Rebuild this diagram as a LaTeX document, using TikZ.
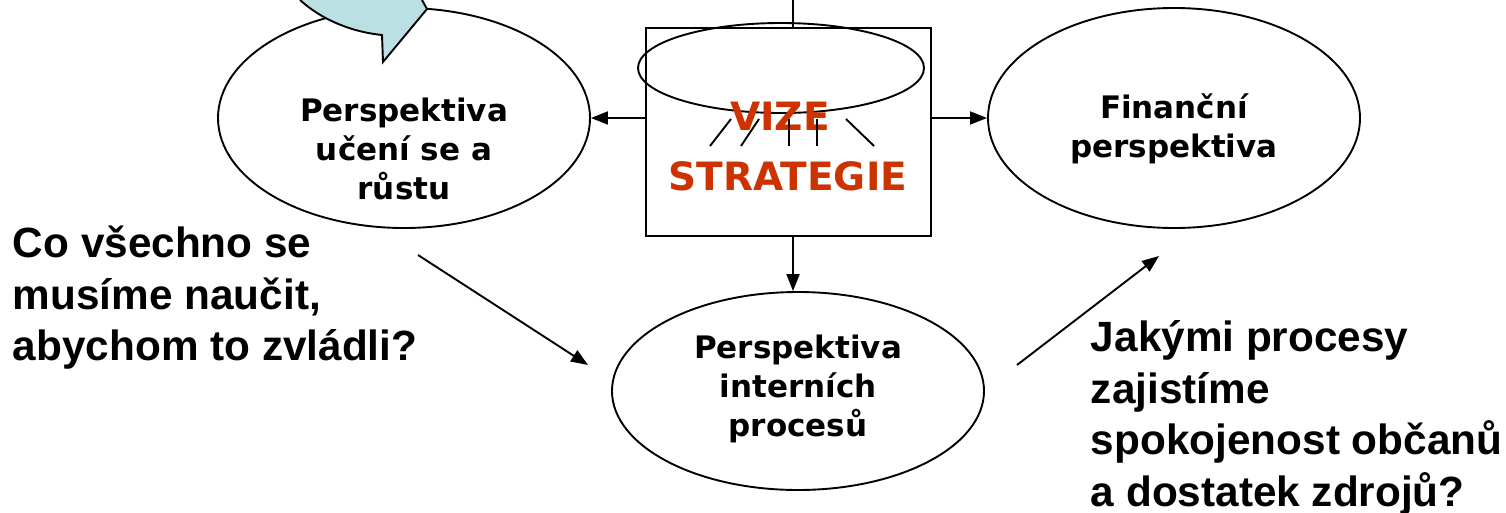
\documentclass[tikz,border=0pt]{standalone}
\usepackage{fontspec}
\setmainfont{Liberation Sans}
\newfontfamily\verd{DejaVu Sans}
\usetikzlibrary{shapes.geometric,positioning,arrows.meta}
\definecolor{vizered}{HTML}{CC3300}
\definecolor{callblue}{HTML}{BBE0E3}
\begin{document}
\begin{tikzpicture}[x=1pt,y=-1pt,line width=1.9pt,
  persp/.style={ellipse,draw,minimum width=372pt,minimum height=220pt,inner sep=0pt},
  ptext/.style={align=center,font=\verd\bfseries\fontsize{31}{39}\selectfont},
  vtext/.style={text=vizered,anchor=base,font=\verd\bfseries\fontsize{39}{58}\selectfont},
  qtext/.style={align=left,anchor=west,inner sep=0pt,font=\bfseries\fontsize{42.3}{51.5}\selectfont},
  >={Triangle[length=17pt,width=13pt]}]
\useasboundingbox (0,0) rectangle (1506,512);
% perspektivy
\node[persp] (p_u) at (404,118) {};
\node[persp] (p_f) at (1174,118) {};
\node[persp,minimum height=198pt] (p_i) at (798,391) {};
\node[ptext] at (404,149) {Perspektiva\\učení se a\\růstu};
\node[ptext] at (1174,129) {Finanční\\perspektiva};
\node[ptext] at (798,389) {Perspektiva\\interních\\procesů};
% vize a strategie
\node[draw,minimum width=285pt,minimum height=208pt,inner sep=0pt] (box) at (788.5,132) {};
\node[ellipse,draw,minimum width=286pt,minimum height=90pt,inner sep=0pt] (v_e) at (781,68) {};
\node[vtext] (vize) at (780,130) {VIZE};
\node[vtext] (strat) at (788,190) {STRATEGIE};
\foreach \a/\b/\c/\d in {731/119/710/146,759/119/741/146,789/119/789/146,817/119/817/146,846/119/874/146}
  \draw (\a,\b) -- (\c,\d);
\coordinate (top) at (793,0);
\draw (top) -- (top |- box.north);
\path[->]
  (box.west |- p_u) edge (p_u.east)
  (box.east |- p_f) edge (p_f.west)
  (box.south -| top) edge (p_i.north -| top);
% sipka nahore
\filldraw[fill=callblue] (300,0) .. controls (322,20) and (352,32) .. (382,35) -- (383,62) -- (427,9) -- (422,0);
% otazky
\node[qtext] (q_l) at (12,298) {Co všechno se\\musíme naučit,\\abychom to zvládli?};
\node[qtext] (q_r) at (1090,418) {Jakými procesy\\zajistíme\\spokojenost občanů\\a dostatek zdrojů?};
\coordinate (a_1) at (418,255);
\coordinate (a_2) at (588,365);
\coordinate (b_1) at (1017,365);
\coordinate (b_2) at (1159,256);
\draw[->] (a_1) -- (a_2);
\draw[->] (b_1) -- (b_2);
\end{tikzpicture}
\end{document}
